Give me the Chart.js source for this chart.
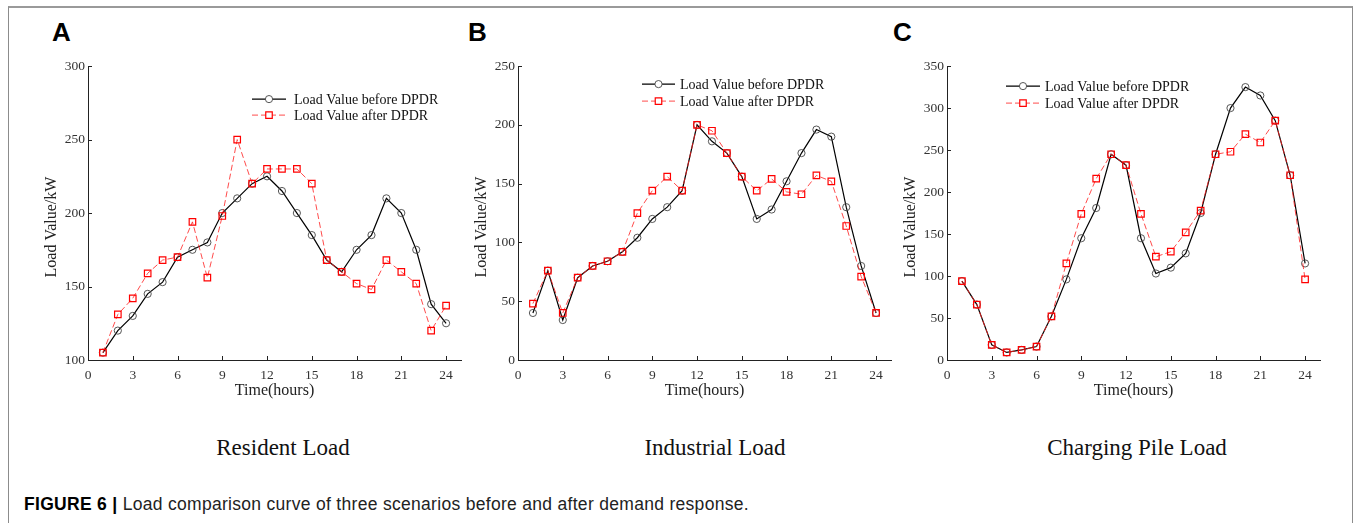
<!DOCTYPE html>
<html>
<head>
<meta charset="utf-8">
<script src="https://cdn.jsdelivr.net/npm/chart.js@4/dist/chart.umd.min.js"></script>
<style>
  body { margin: 0; background: #fff; width: 1356px; height: 523px; overflow: hidden; position: relative; }
  .frame { position: absolute; left: 8px; top: 6px; width: 1343px; height: 540px;
           border-top: 2px solid #9a9a9a; border-left: 1px solid #8c8c8c; border-right: 1px solid #8c8c8c; }
  canvas { position: absolute; }
  .letter { position: absolute; top: 19px; font: bold 26px 'Liberation Sans', Arial, sans-serif; line-height: 1; color: #000; }
  .sub { position: absolute; top: 436px; width: 400px; text-align: center; font: 23px 'Liberation Serif', serif; line-height: 1; color: #111; }
  .caption { position: absolute; left: 24px; top: 496px; font: 17.5px 'Liberation Sans', Arial, sans-serif; letter-spacing: 0.3px;
             line-height: 1; color: #222; white-space: nowrap; }
  .caption b { color: #000; }
</style>
</head>
<body>
<div class="frame"></div>
<div class="letter" style="left:52px">A</div>
<div class="letter" style="left:468px">B</div>
<div class="letter" style="left:893px">C</div>

<canvas id="chartA" width="430" height="345" style="left:40px;top:55px"></canvas>
<canvas id="chartB" width="430" height="345" style="left:470px;top:55px"></canvas>
<canvas id="chartC" width="430" height="345" style="left:899px;top:55px"></canvas>

<div class="sub" style="left:83px">Resident Load</div>
<div class="sub" style="left:515px">Industrial Load</div>
<div class="sub" style="left:937px">Charging Pile Load</div>

<div class="caption"><b>FIGURE 6 |</b> Load comparison curve of three scenarios before and after demand response.</div>

<script>
// hours on the x axis
const hours = [1, 2, 3, 4, 5, 6, 7, 8, 9, 10, 11, 12, 13, 14, 15, 16, 17, 18, 19, 20, 21, 22, 23, 24];
const xTicks = [0, 3, 6, 9, 12, 15, 18, 21, 24];

// A - resident
const residentBefore = [105, 120, 130, 145, 153, 170, 175, 180, 200, 210, 220, 225, 215, 200, 185, 168, 160, 175, 185, 210, 200, 175, 138, 125];
const residentAfter  = [105, 131, 142, 159, 168, 170, 194, 156, 198, 250, 220, 230, 230, 230, 220, 168, 160, 152, 148, 168, 160, 152, 120, 137];
const residentTicks  = [100, 150, 200, 250, 300];

// B - industrial
const industrialBefore = [40, 76, 34, 70, 80, 84, 92, 104, 120, 130, 144, 200, 186, 176, 156, 120, 128, 152, 176, 196, 190, 130, 80, 40];
const industrialAfter  = [48, 76, 40, 70, 80, 84, 92, 125, 144, 156, 144, 200, 195, 176, 156, 144, 154, 143, 141, 157, 152, 114, 71, 40];
const industrialTicks  = [0, 50, 100, 150, 200, 250];

// C - charging pile
const chargingBefore = [94, 66, 18, 9, 12, 16, 52, 96, 145, 181, 245, 232, 145, 103, 110, 127, 175, 245, 300, 325, 315, 285, 220, 115];
const chargingAfter  = [94, 66, 18, 9, 12, 16, 52, 115, 174, 216, 245, 232, 174, 123, 129, 152, 178, 245, 248, 269, 259, 285, 220, 96];
const chargingTicks  = [0, 50, 100, 150, 200, 250, 300, 350];

const seriesNames = ['Load Value before DPDR', 'Load Value after DPDR'];

const serif = "'Liberation Serif', 'Times New Roman', serif";

// MATLAB style ticks pointing into the plot
const inwardTicks = {
    id: 'inwardTicks',
    afterDraw(chart) {
        const ctx = chart.ctx;
        const xs = chart.scales.x, ys = chart.scales.y;
        ctx.save();
        ctx.strokeStyle = '#222';
        ctx.lineWidth = 1;
        ctx.beginPath();
        xs.ticks.forEach(t => {
            const px = Math.round(xs.getPixelForValue(t.value)) + 0.5;
            ctx.moveTo(px, ys.bottom);
            ctx.lineTo(px, ys.bottom - 4);
        });
        ys.ticks.forEach(t => {
            const py = Math.round(ys.getPixelForValue(t.value)) + 0.5;
            ctx.moveTo(xs.left, py);
            ctx.lineTo(xs.left + 4, py);
        });
        ctx.stroke();
        ctx.restore();
    }
};

// legend drawn inside the axes, no box
const innerLegend = {
    id: 'innerLegend',
    afterDraw(chart, args, opts) {
        const ctx = chart.ctx;
        const area = chart.chartArea;
        ctx.save();
        chart.data.datasets.forEach((ds, i) => {
            const y = area.top + opts.rows[i];
            const x0 = area.left + opts.lineFrom, x1 = area.left + opts.lineTo;
            ctx.strokeStyle = ds.borderColor;
            ctx.lineWidth = ds.borderWidth;
            ctx.setLineDash(ds.borderDash || []);
            ctx.beginPath();
            ctx.moveTo(x0, y);
            ctx.lineTo(x1, y);
            ctx.stroke();
            ctx.setLineDash([]);
            const cx = (x0 + x1) / 2;
            ctx.strokeStyle = ds.pointBorderColor;
            ctx.lineWidth = ds.pointBorderWidth;
            ctx.beginPath();
            if (ds.pointStyle === 'rect') {
                const s = ds.pointRadius * Math.SQRT1_2;
                ctx.rect(cx - s, y - s, 2 * s, 2 * s);
            } else {
                ctx.arc(cx, y, ds.pointRadius, 0, Math.PI * 2);
            }
            ctx.fillStyle = '#fff';
            ctx.fill();
            ctx.stroke();
            ctx.fillStyle = '#111';
            ctx.font = '14px ' + serif;
            ctx.textBaseline = 'middle';
            ctx.fillText(ds.label, area.left + opts.textAt, y + 1);
        });
        ctx.restore();
    }
};

function makeChart(id, before, after, yTicks, legendPos) {
    const ctx = document.getElementById(id).getContext('2d');
    return new Chart(ctx, {
        type: 'line',
        data: {
            datasets: [{
                label: seriesNames[0],
                data: hours.map((h, i) => ({x: h, y: before[i]})),
                borderColor: '#000',
                borderWidth: 1.2,
                pointStyle: 'circle',
                pointRadius: 3.6,
                pointBorderColor: '#444',
                pointBorderWidth: 0.9,
                pointBackgroundColor: 'rgba(0,0,0,0)',
                tension: 0,
                order: 2
            }, {
                label: seriesNames[1],
                data: hours.map((h, i) => ({x: h, y: after[i]})),
                borderColor: 'rgba(255,30,30,0.8)',
                borderWidth: 1,
                borderDash: [6, 3],
                pointStyle: 'rect',
                pointRadius: 4.6,
                pointBorderColor: '#f00',
                pointBorderWidth: 1.2,
                pointBackgroundColor: 'rgba(0,0,0,0)',
                tension: 0,
                order: 1
            }]
        },
        options: {
            responsive: false,
            animation: false,
            devicePixelRatio: 1,
            layout: { padding: { top: 10, right: 9, left: 0, bottom: 0 } },
            plugins: {
                legend: { display: false },
                tooltip: { enabled: false },
                innerLegend: legendPos
            },
            scales: {
                x: {
                    type: 'linear',
                    min: 0,
                    max: 25,
                    afterBuildTicks: s => { s.ticks = xTicks.map(v => ({value: v})); },
                    afterFit: s => { s.height = 40; },
                    grid: { display: false, drawTicks: false },
                    border: { display: true, color: '#222', width: 1 },
                    ticks: { padding: 7, color: '#333', maxRotation: 0, font: { family: serif, size: 13.5 } },
                    title: { display: true, text: 'Time(hours)', color: '#222', padding: 0, font: { family: serif, size: 16 } }
                },
                y: {
                    min: yTicks[0],
                    max: yTicks[yTicks.length - 1],
                    afterBuildTicks: s => { s.ticks = yTicks.map(v => ({value: v})); },
                    afterFit: s => { s.width = 48; },
                    grid: { display: false, drawTicks: false },
                    border: { display: true, color: '#222', width: 1 },
                    ticks: { padding: 3, color: '#333', font: { family: serif, size: 13.5 } },
                    // trailing spaces push the label a bit lower, as in the original
                    title: { display: true, text: 'Load Value/kW       ', color: '#222', padding: 2, font: { family: serif, size: 16 } }
                }
            }
        },
        plugins: [inwardTicks, innerLegend]
    });
}

makeChart('chartA', residentBefore, residentAfter, residentTicks, { lineFrom: 164, lineTo: 198, textAt: 206, rows: [33, 49] });
makeChart('chartB', industrialBefore, industrialAfter, industrialTicks, { lineFrom: 124, lineTo: 157, textAt: 162, rows: [18, 35] });
makeChart('chartC', chargingBefore, chargingAfter, chargingTicks, { lineFrom: 59, lineTo: 93, textAt: 98, rows: [20, 37] });
</script>
</body>
</html>
